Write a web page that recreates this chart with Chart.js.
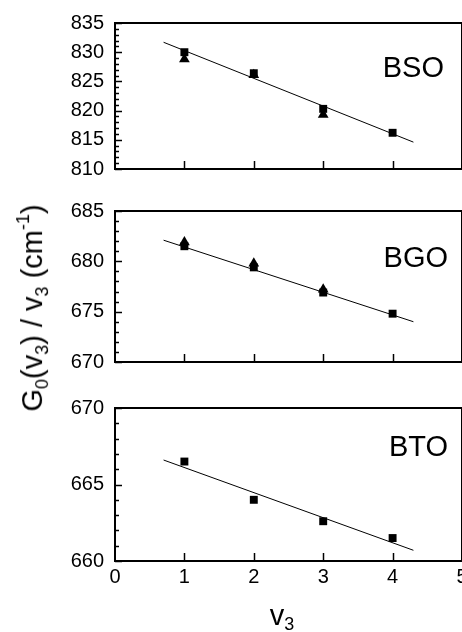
<!DOCTYPE html>
<html>
<head>
<meta charset="utf-8">
<script src="https://cdn.jsdelivr.net/npm/chart.js@4"></script>
<style>
  html, body { margin: 0; padding: 0; background: #fff; overflow: hidden; }
  body { width: 462px; height: 632px; position: relative; font-family: "Liberation Sans", Arial, sans-serif; }
  canvas { position: absolute; left: 0; }
  .ytitle {
    position: absolute; left: 33px; top: 308px;
    transform: translate(-50%, -50%) rotate(-90deg);
    white-space: nowrap; font-size: 29px; color: #000;
  }
  .xtitle {
    position: absolute; left: 282px; top: 617px;
    transform: translate(-50%, -50%);
    white-space: nowrap; font-size: 29px; color: #000;
  }
  sub, sup { font-size: 0.62em; }
  sub { vertical-align: -0.3em; }
  sup { vertical-align: 0.75em; }
</style>
</head>
<body>
<canvas id="painel_bso" width="480" height="192" style="top:0px"></canvas>
<canvas id="painel_bgo" width="480" height="197" style="top:188px"></canvas>
<canvas id="painel_bto" width="480" height="247" style="top:385px"></canvas>
<div class="ytitle">G<sub>0</sub>(v<sub>3</sub>) / v<sub>3</sub> (cm<sup>-1</sup>)</div>
<div class="xtitle">v<sub>3</sub></div>
<script>
// valores de v3 e G0(v3)/v3 para cada cristal
const v3 = [1, 2, 3, 4]
const v3Triangulos = [1, 2, 3]
const bsoQuadrados = [830.0, 826.4, 820.3, 816.2]
const bsoTriangulos = [828.8, 826.1, 819.3]
const bgoQuadrados = [681.5, 679.4, 676.9, 674.8]
const bgoTriangulos = [681.9, 679.8, 677.2]
const btoQuadrados = [666.5, 664.0, 662.6, 661.5]

// retas ajustadas (extremos)
const ajusteX = [0.7, 4.3]
const bsoAjuste = [831.7, 814.6]
const bgoAjuste = [682.1, 674.0]
const btoAjuste = [666.6, 660.7]

const bsoEixo = [810, 835]
const bgoEixo = [670, 685]
const btoEixo = [660, 670]
const xEixo = [0, 5]

const fonte = 'Liberation Sans, Arial, sans-serif'
Chart.defaults.font.family = fonte
Chart.defaults.font.size = 20
Chart.defaults.color = '#000'

const pares = (xs, ys) => ys.map((y, i) => ({ x: xs[i], y }))

// moldura, ticks internos e nome do cristal
const molduraPlugin = {
    id: 'moldura',
    afterDraw(chart, args, opts) {
        const { ctx, chartArea: a, scales } = chart
        ctx.save()
        ctx.strokeStyle = '#000'
        ctx.lineWidth = 1.5
        const y = scales.y
        for (let v = y.min; v <= y.max; v += 1) {
            const py = Math.round(y.getPixelForValue(v)) + 0.5
            const len = (v % 5 === 0) ? 7 : 4
            ctx.beginPath()
            ctx.moveTo(a.left, py)
            ctx.lineTo(a.left + len, py)
            ctx.stroke()
        }
        const x = scales.x
        for (let v = x.min + 1; v < x.max; v += 1) {
            const px = Math.round(x.getPixelForValue(v)) + 0.5
            ctx.beginPath()
            ctx.moveTo(px, a.bottom)
            ctx.lineTo(px, a.bottom - 8)
            ctx.stroke()
        }
        ctx.lineWidth = 2
        ctx.strokeRect(a.left, a.top, a.right - a.left, a.bottom - a.top)

        ctx.fillStyle = '#000'
        ctx.font = '29px ' + fonte
        ctx.textAlign = 'right'
        ctx.textBaseline = 'middle'
        ctx.fillText(opts.texto, a.right - opts.dx, a.top + opts.dy)
        ctx.restore()
    }
}

const criarPainel = (id, nome, quadrados, triangulos, ajuste, eixo, cfg) => {
    const datasets = [{
        label: 'quadrados',
        data: pares(v3, quadrados),
        pointStyle: 'rect',
        pointRadius: 5.6,
        pointBorderWidth: 0,
        backgroundColor: '#000',
        borderColor: '#000',
        order: 1
    }]
    if (triangulos) {
        datasets.push({
            label: 'triangulos',
            data: pares(v3Triangulos, triangulos),
            pointStyle: 'triangle',
            pointRadius: 6.2,
            pointBorderWidth: 0,
            backgroundColor: '#000',
            borderColor: '#000',
            order: 2
        })
    }
    datasets.push({
        label: 'ajuste',
        data: pares(ajusteX, ajuste),
        showLine: true,
        pointRadius: 0,
        borderWidth: 1,
        borderColor: '#000',
        order: 3
    })

    return new Chart(document.getElementById(id), {
        type: 'scatter',
        data: { datasets },
        plugins: [molduraPlugin],
        options: {
            responsive: false,
            animation: false,
            devicePixelRatio: 1,
            layout: { padding: { top: cfg.topo, right: 18, bottom: 0, left: 0 } },
            plugins: {
                legend: { display: false },
                tooltip: { enabled: false },
                moldura: { texto: nome, dx: cfg.dx, dy: cfg.dy }
            },
            scales: {
                x: {
                    type: 'linear',
                    min: xEixo[0],
                    max: xEixo[1],
                    grid: { display: false, drawTicks: false },
                    border: { display: false },
                    ticks: {
                        display: cfg.rotulosX,
                        stepSize: 1,
                        padding: 4,
                        color: '#000',
                        maxRotation: 0,
                        font: { size: 20 }
                    },
                    afterFit: (s) => { s.height = cfg.alturaX }
                },
                y: {
                    min: eixo[0],
                    max: eixo[1],
                    grid: { display: false, drawTicks: false },
                    border: { display: false },
                    ticks: {
                        stepSize: 5,
                        padding: 11,
                        color: '#000',
                        font: { size: 20 }
                    },
                    afterFit: (s) => { s.width = 115 }
                }
            }
        }
    })
}

criarPainel('painel_bso', 'BSO', bsoQuadrados, bsoTriangulos, bsoAjuste, bsoEixo,
    { topo: 17, alturaX: 19, rotulosX: false, dx: 18, dy: 46 })
criarPainel('painel_bgo', 'BGO', bgoQuadrados, bgoTriangulos, bgoAjuste, bgoEixo,
    { topo: 21, alturaX: 20, rotulosX: false, dx: 14, dy: 48 })
criarPainel('painel_bto', 'BTO', btoQuadrados, null, btoAjuste, btoEixo,
    { topo: 21, alturaX: 71, rotulosX: true, dx: 14, dy: 40 })
</script>
</body>
</html>
